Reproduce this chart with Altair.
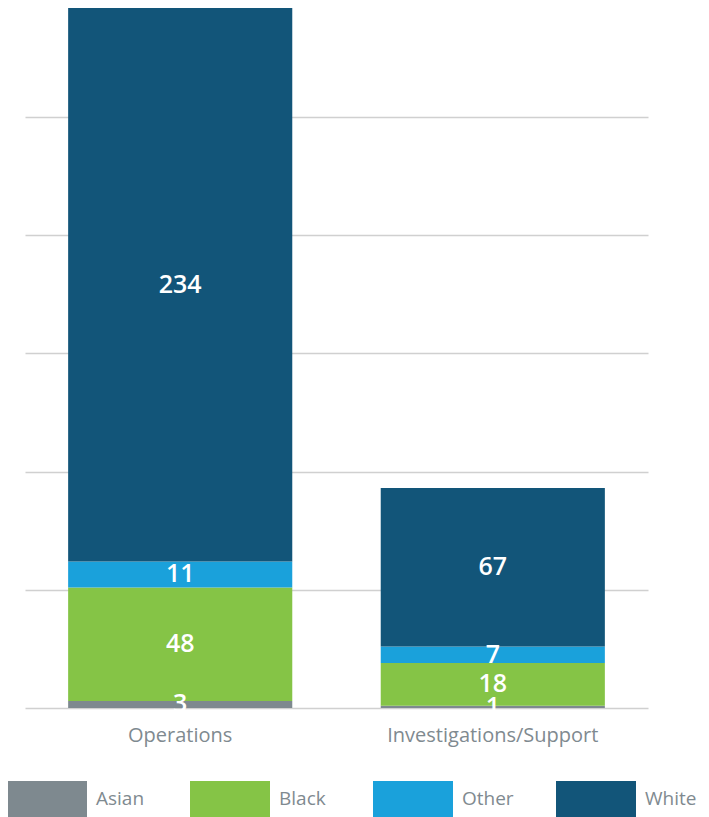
import altair as alt
import pandas as pd

categories = ["Operations", "Investigations/Support"]
groups = ["Asian", "Black", "Other", "White"]
operations = [3, 48, 11, 234]
investigations = [1, 18, 7, 67]
colors = ["#7e898f", "#85c446", "#1aa1db", "#125579"]

rows = []
for cat, vals in zip(categories, [operations, investigations]):
    for i, (g, v) in enumerate(zip(groups, vals)):
        rows.append({"category": cat, "group": g, "value": v, "order": i})
df = pd.DataFrame(rows)

FONT = "Open Sans"

xenc = alt.X(
    "category:N",
    sort=categories,
    title=None,
    scale=alt.Scale(paddingInner=0.283, paddingOuter=0.138),
    axis=alt.Axis(domain=False, ticks=False, labelAngle=0, labelFontSize=20,
                  labelColor="#7f8a90", labelFont=FONT, labelPadding=17, labelLimit=0),
)
yscale = alt.Scale(domain=[0, 296], nice=False)

bars = alt.Chart(df).mark_bar().encode(
    x=xenc,
    y=alt.Y("value:Q", stack="zero", scale=yscale, title=None,
            axis=alt.Axis(values=[0, 50, 100, 150, 200, 250], labels=False, ticks=False,
                          domain=False, grid=True, gridColor="#d0d0d0", gridWidth=1.6)),
    color=alt.Color("group:N", sort=groups,
                    scale=alt.Scale(domain=groups, range=colors),
                    legend=alt.Legend(
                        title=None, orient="none", direction="horizontal", columns=4,
                        legendX=-18, legendY=751,
                        symbolType="M-1,-0.45L1,-0.45L1,0.45L-1,0.45Z",
                        symbolSize=6400, symbolStrokeWidth=0, symbolOpacity=1,
                        labelFontSize=19, labelColor="#7f8a90", labelFont=FONT,
                        labelOffset=9, columnPadding=42, gridAlign="all", labelLimit=0)),
    order=alt.Order("order:Q"),
)

labels = alt.Chart(df).transform_stack(
    stack="value", groupby=["category"], as_=["v0", "v1"],
    sort=[alt.SortField("order", order="ascending")],
).transform_calculate(mid="(datum.v0 + datum.v1) / 2").mark_text(
    color="white", fontSize=25, font=FONT, fontWeight=600, baseline="middle", align="center"
).encode(
    x=alt.X("category:N", sort=categories),
    y=alt.Y("mid:Q", scale=yscale),
    text=alt.Text("value:Q"),
)

chart = alt.layer(bars, labels).properties(
    width=623, height=700,
    autosize=alt.AutoSizeParams(type="none"),
    padding={"left": 17, "top": 0, "right": 53, "bottom": 120},
).configure_view(stroke=None)

chart.save("out.html", embed_options={"renderer": "svg", "actions": False})
